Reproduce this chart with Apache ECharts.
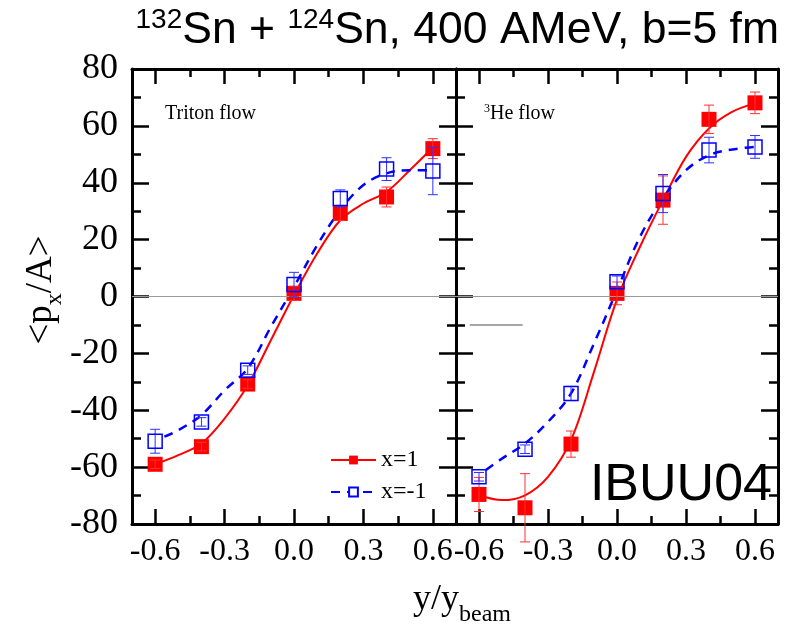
<!DOCTYPE html>
<html><head><meta charset="utf-8">
<script src="https://cdn.jsdelivr.net/npm/echarts@6/dist/echarts.min.js"></script>
<style>html,body{margin:0;padding:0;background:#fff}#c{width:802px;height:629px}</style>
</head><body><div id="c"></div>
<script>
// ---- data ----
const rapidity = [-0.6, -0.4, -0.2, 0, 0.2, 0.4, 0.6];
const tritonX1 = [-59, -52.8, -30.8, 1.1, 29.2, 35, 52];
const tritonX1Err = [1.5, 1.5, 1.5, 2.5, 2.5, 3.5, 3.5];
const tritonXm1 = [-50.9, -44.1, -25.9, 4.2, 34.5, 44.8, 44.1];
const tritonXm1Err = [4.2, 1.5, 1.5, 4.3, 3, 4, 8.3];
const heX1 = [-69.6, -74.3, -51.9, 1.1, 33.9, 62.3, 68.1];
const heX1Err = [6, 12, 4.6, 4, 8.5, 5, 3.8];
const heXm1 = [-63.4, -53.7, -34.1, 5.2, 36.2, 51.5, 52.6];
const heXm1Err = [1.5, 1.5, 2.5, 2, 6.7, 4.5, 4];

// fitted curves
const fitXRed = [-0.6, -0.5, -0.4, -0.3, -0.2, -0.1, 0, 0.1, 0.2, 0.3, 0.4, 0.5, 0.6];
const tritonFitX1 = [-59, -55.8, -51.7, -42.9, -31.2, -15.4, 0.5, 15.1, 26.8, 32.7, 36.8, 44.4, 52.4];
const fitXBlueTriton = [-0.56, -0.5, -0.4, -0.3, -0.2, -0.1, 0, 0.1, 0.2, 0.3, 0.4, 0.5, 0.6];
const tritonFitXm1 = [-49.3, -47, -41.7, -33, -25.3, -10.7, 3.4, 18, 30.4, 39.2, 43.3, 44.4, 44.4];
const heFitX1 = [-69.9, -71.6, -69.9, -63.4, -50.5, -26.5, -1, 17.5, 33.9, 49.1, 59.1, 64.9, 67.9];
const fitXBlueHe = [-0.57, -0.5, -0.4, -0.3, -0.2, -0.1, 0, 0.1, 0.2, 0.3, 0.4, 0.5, 0.6];
const heFitXm1 = [-61, -57, -51.7, -44.1, -34.1, -16.5, 2.2, 21, 34.5, 44.4, 49.7, 51.7, 52.6];
const heStrayLine = [[-0.64, -10], [-0.41, -10]];

const majorX = [-0.6, -0.3, 0, 0.3, 0.6];
const minorX = [-0.45, -0.15, 0.15, 0.45];
const panelLabels = ['Triton flow', '{sup|3}He flow'];
const seriesNames = ['x=1', 'x=-1'];

// ---- chart ----
const serif = 'Liberation Serif';
const sans = 'Liberation Sans';
const RED = '#ff0000', BLUE = '#0000ff';
const chart = echarts.init(document.getElementById('c'));

function xAxes(g) {
  const base = {gridIndex: g, type: 'value', min: -0.7, max: 0.7, splitLine: {show: false}};
  return [
    Object.assign({}, base, {position: 'bottom',
      axisLine: {show: true, onZero: false, lineStyle: {color: '#000', width: 3}},
      axisTick: {show: true, inside: true, length: 15, lineStyle: {color: '#000', width: 2.5}, customValues: majorX},
      axisLabel: {show: true, customValues: majorX, formatter: v => v.toFixed(1), fontFamily: serif, fontSize: 32, color: '#000', margin: 12}}),
    Object.assign({}, base, {position: 'bottom',
      axisLine: {show: false, onZero: false},
      axisTick: {show: true, inside: true, length: 8, lineStyle: {color: '#000', width: 2.5}, customValues: minorX},
      axisLabel: {show: false}}),
    Object.assign({}, base, {position: 'top',
      axisLine: {show: true, onZero: false, lineStyle: {color: '#000', width: 3}},
      axisTick: {show: true, inside: true, length: 15, lineStyle: {color: '#000', width: 2.5}, customValues: majorX},
      axisLabel: {show: false}}),
    Object.assign({}, base, {position: 'top',
      axisLine: {show: false, onZero: false},
      axisTick: {show: true, inside: true, length: 8, lineStyle: {color: '#000', width: 2.5}, customValues: minorX},
      axisLabel: {show: false}})
  ];
}
function yAxes(g) {
  const mk = (pos, lab) => ({gridIndex: g, type: 'value', position: pos, min: -80, max: 80, interval: 20,
    axisLine: {show: true, onZero: false, lineStyle: {color: '#000', width: 3}},
    axisTick: {show: true, inside: true, length: 17, lineStyle: {color: '#000', width: 2.5}},
    minorTick: {show: true, splitNumber: 2, length: 9, lineStyle: {color: '#000', width: 2.5}},
    axisLabel: {show: lab, fontFamily: serif, fontSize: 36, color: '#000', margin: 14},
    splitLine: {show: false}, minorSplitLine: {show: false}});
  return [mk('left', g === 0), mk('right', false)];
}

function errSeries(g, ys, es, color) {
  return {type: 'custom', xAxisIndex: g * 4, yAxisIndex: g * 2, z: 6, silent: true,
    data: rapidity.map((x, i) => [x, ys[i] - es[i], ys[i] + es[i]]),
    renderItem(params, api) {
      const x = api.value(0);
      const lo = api.coord([x, api.value(1)]);
      const hi = api.coord([x, api.value(2)]);
      const w = 5;
      const st = {stroke: color, lineWidth: 1};
      return {type: 'group', children: [
        {type: 'line', shape: {x1: lo[0], y1: lo[1], x2: hi[0], y2: hi[1]}, style: st},
        {type: 'line', shape: {x1: lo[0] - w, y1: lo[1], x2: lo[0] + w, y2: lo[1]}, style: st},
        {type: 'line', shape: {x1: hi[0] - w, y1: hi[1], x2: hi[0] + w, y2: hi[1]}, style: st}
      ]};
    }};
}
function pointSeries(g, ys, filled) {
  return {type: 'scatter', xAxisIndex: g * 4, yAxisIndex: g * 2, z: filled ? 4 : 7, silent: true,
    symbol: 'rect', symbolSize: filled ? 15 : 14,
    itemStyle: filled ? {color: RED, opacity: 1} : {color: 'rgba(255,255,255,0)', borderColor: BLUE, borderWidth: 1.5, opacity: 1},
    data: rapidity.map((x, i) => [x, ys[i]])};
}
function curveSeries(g, xs, ys, red) {
  return {type: 'line', name: red ? seriesNames[0] : seriesNames[1], xAxisIndex: g * 4, yAxisIndex: g * 2,
    z: 2, silent: true, smooth: 0.35, showSymbol: false,
    symbol: red ? 'rect' : 'emptyRect',
    itemStyle: red ? {color: RED} : {color: BLUE, borderColor: BLUE},
    lineStyle: red ? {color: RED, width: 2} : {color: BLUE, width: 2.5, type: [9, 7]},
    data: xs.map((x, i) => [x, ys[i]])};
}
function zeroLine(g) {
  return {type: 'line', xAxisIndex: g * 4, yAxisIndex: g * 2, silent: true, z: 1, data: [],
    markLine: {silent: true, symbol: 'none', label: {show: false},
      lineStyle: {color: '#999', width: 1, type: 'solid'}, data: [{yAxis: 0}]}};
}

const option = {
  animation: false,
  backgroundColor: '#fff',
  grid: [
    {left: 132, top: 69, width: 324, height: 455},
    {left: 456, top: 69, width: 322, height: 455}
  ],
  xAxis: [...xAxes(0), ...xAxes(1)],
  yAxis: [...yAxes(0), ...yAxes(1)],
  legend: {data: seriesNames, orient: 'vertical', left: 325, top: 443, itemWidth: 45, itemHeight: 11,
    itemGap: 8, selectedMode: false,
    textStyle: {fontFamily: serif, fontSize: 24, color: '#000'}},
  series: [
    zeroLine(0), zeroLine(1),
    curveSeries(0, fitXRed, tritonFitX1, true),
    curveSeries(0, fitXBlueTriton, tritonFitXm1, false),
    curveSeries(1, fitXRed, heFitX1, true),
    curveSeries(1, fitXBlueHe, heFitXm1, false),
    {type: 'line', xAxisIndex: 4, yAxisIndex: 2, silent: true, showSymbol: false, z: 1,
      lineStyle: {color: '#888', width: 1.5}, data: heStrayLine},
    errSeries(0, tritonX1, tritonX1Err, '#ff3030'),
    errSeries(0, tritonXm1, tritonXm1Err, '#3030ff'),
    errSeries(1, heX1, heX1Err, '#ff3030'),
    errSeries(1, heXm1, heXm1Err, '#3030ff'),
    pointSeries(0, tritonX1, true),
    pointSeries(0, tritonXm1, false),
    pointSeries(1, heX1, true),
    pointSeries(1, heXm1, false)
  ],
  graphic: [
    {type: 'text', right: 23, top: 6, style: {
      text: '{sup|132}Sn + {sup|124}Sn, 400 AMeV, b=5 fm',
      font: '44.5px "Liberation Sans"', fill: '#000',
      rich: {sup: {fontFamily: sans, fontSize: 28, verticalAlign: 'top', lineHeight: 49}}}},
    {type: 'text', x: 41, y: 290, rotation: Math.PI / 2, style: {
      text: '<p{sub|x}/A>', font: '37px "Liberation Serif"', fill: '#000',
      align: 'center', verticalAlign: 'middle',
      rich: {sub: {fontFamily: serif, fontSize: 24, verticalAlign: 'bottom', lineHeight: 52}}}},
    {type: 'text', x: 462, y: 600, style: {
      text: 'y/y{sub|beam}', font: '36px "Liberation Serif"', fill: '#000',
      align: 'center', verticalAlign: 'middle',
      rich: {sub: {fontFamily: serif, fontSize: 24, verticalAlign: 'bottom', lineHeight: 54}}}},
    {type: 'text', x: 165, y: 114, style: {text: panelLabels[0], font: '20px "Liberation Serif"', fill: '#000', verticalAlign: 'middle'}},
    {type: 'text', x: 484, y: 114, style: {text: panelLabels[1], font: '20px "Liberation Serif"', fill: '#000', verticalAlign: 'middle',
      rich: {sup: {fontFamily: serif, fontSize: 12, verticalAlign: 'top', lineHeight: 22}}}},
    {type: 'text', x: 772, y: 512, style: {text: 'IBUU04', font: '52px "Liberation Sans"', fill: '#000', align: 'right', verticalAlign: 'bottom'}}
  ]
};
chart.setOption(option);
</script>
</body></html>
